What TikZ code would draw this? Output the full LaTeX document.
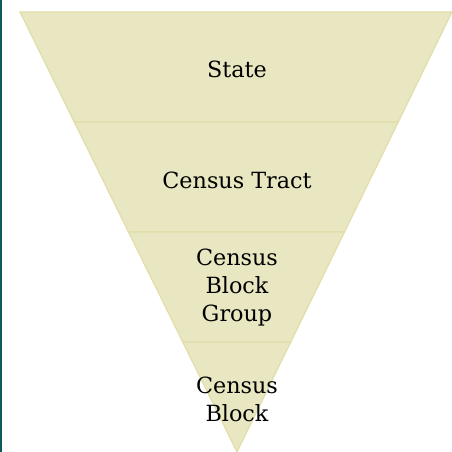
\documentclass[tikz,border=0pt]{standalone}
\usepackage{fontspec}
\setmainfont{DejaVu Serif}
\usetikzlibrary{calc}
\begin{document}
\begin{tikzpicture}[x=1pt,y=-1pt,
  band/.style={fill=bandfill,draw=bandedge,line width=1.2pt,line join=miter},
  lbl/.style={font=\fontsize{22.3}{28}\selectfont,text=black,align=center}]
\definecolor{bandfill}{HTML}{E9E7C1}
\definecolor{bandedge}{HTML}{E1DEA9}
\definecolor{teal}{HTML}{0B5B5B}
\useasboundingbox (0,0) rectangle (452,452);
\fill[white] (0,0) rectangle (452,452);
% left rule
\fill[teal] (0,0) rectangle (2,452);
% corner points of the inverted triangle and its band boundaries
\coordinate (tl) at (20,12);
\coordinate (tr) at (452,12);
\coordinate (ap) at (237,452);
\coordinate (l1) at ($(tl)!0.25!(ap)$);
\coordinate (r1) at ($(tr)!0.25!(ap)$);
\coordinate (l2) at ($(tl)!0.5!(ap)$);
\coordinate (r2) at ($(tr)!0.5!(ap)$);
\coordinate (l3) at ($(tl)!0.75!(ap)$);
\coordinate (r3) at ($(tr)!0.75!(ap)$);
\draw[band] (tl) -- (tr) -- (r1) -- (l1) -- cycle;
\draw[band] (l1) -- (r1) -- (r2) -- (l2) -- cycle;
\draw[band] (l2) -- (r2) -- (r3) -- (l3) -- cycle;
\draw[band] (l3) -- (r3) -- (ap) -- cycle;
\node[lbl] (s1) at (237,69) {State};
\node[lbl] (s2) at (237,180) {Census Tract};
\node[lbl] (s3) at (237,288) {Census\\Block\\Group};
\node[lbl] (s4) at (237,399) {Census\\Block};
\end{tikzpicture}
\end{document}
